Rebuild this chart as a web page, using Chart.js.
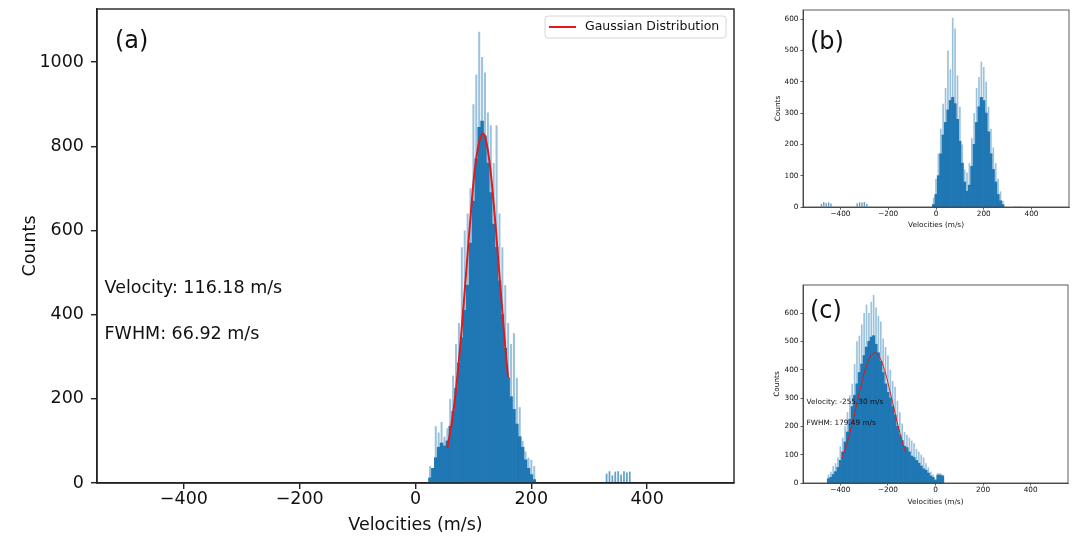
<!DOCTYPE html>
<html>
<head>
<meta charset="utf-8">
<script src="https://cdn.jsdelivr.net/npm/chart.js@4.4.1/dist/chart.umd.min.js"></script>
<style>
  body { margin: 0; background: #fff; width: 1074px; height: 538px; overflow: hidden; position: relative; }
  canvas { position: absolute; }
</style>
</head>
<body>
<canvas id="chartA" width="745" height="538" style="left:0;top:0"></canvas>
<canvas id="chartB" width="319" height="240" style="left:755px;top:0"></canvas>
<canvas id="chartC" width="319" height="258" style="left:755px;top:260px"></canvas>
<script>
const FONT = "'DejaVu Sans', sans-serif"
const BLUE = '#1f77b4'
const LIGHT = 'rgba(31,119,180,0.45)'
const MID = 'rgba(31,119,180,0.7)'
const RED = '#e0191b'

// tick labels
const velTicks = [-400, -200, 0, 200, 400]
const aYTicks = [0, 200, 400, 600, 800, 1000]
const bYTicks = [0, 100, 200, 300, 400, 500, 600]
const cYTicks = [0, 100, 200, 300, 400, 500, 600]

// (a) main histogram, 5 m/s bins
const aVel    = [25, 30, 35, 40, 45, 50, 55, 60, 65, 70, 75, 80, 85, 90, 95, 100, 105, 110, 115, 120, 125, 130, 135, 140, 145, 150, 155, 160, 165, 170, 175, 180, 185, 190, 195, 200, 205]
const aBody   = [12, 35, 60, 85, 95, 88, 100, 135, 170, 225, 285, 345, 410, 470, 570, 670, 770, 845, 860, 825, 760, 690, 615, 560, 480, 400, 320, 250, 205, 175, 140, 110, 85, 55, 35, 20, 8]
const aPeak   = [40, 30, 135, 120, 145, 110, 130, 200, 255, 330, 380, 560, 600, 640, 700, 900, 970, 1072, 1012, 975, 880, 850, 760, 850, 640, 560, 470, 380, 330, 356, 250, 180, 100, 75, 60, 55, 40]
const aSideVel    = [330, 335, 340, 345, 350, 355, 360, 365, 370]
const aSideCounts = [22, 28, 18, 27, 28, 20, 28, 25, 27]
const aGaussVel    = [55, 65, 75, 85, 95, 105, 116, 125, 135, 145, 155, 160]
const aGaussCounts = [83, 166, 292, 456, 631, 772, 830, 790, 664, 493, 323, 250]

// (b) two-peak histogram, 10 m/s bins
const bVel    = [-10, 0, 10, 20, 30, 40, 50, 60, 70, 80, 90, 100, 110, 120, 130, 140, 150, 160, 170, 180, 190, 200, 210, 220, 230, 240, 250, 260, 270, 280]
const bBody   = [8, 40, 100, 170, 230, 270, 310, 340, 350, 330, 280, 210, 140, 80, 50, 70, 130, 200, 270, 320, 350, 340, 300, 240, 170, 120, 80, 40, 20, 8]
const bPeak   = [30, 90, 170, 250, 330, 380, 500, 440, 604, 570, 420, 320, 200, 120, 110, 140, 220, 300, 380, 415, 464, 447, 400, 320, 250, 190, 140, 90, 50, 20]
const bSideVel    = [-480, -470, -460, -450, -440, -330, -320, -310, -300, -290, 330, 340, 350]
const bSideCounts = [10, 16, 12, 15, 11, 12, 15, 14, 16, 10, 3, 2, 3]

// (c) negative velocities, 10 m/s bins
const cVel    = [-450, -440, -430, -420, -410, -400, -390, -380, -370, -360, -350, -340, -330, -320, -310, -300, -290, -280, -270, -260, -250, -240, -230, -220, -210, -200, -190, -180, -170, -160, -150, -140, -130, -120, -110, -100, -90, -80, -70, -60, -50, -40, -30, -20, -10, 0, 10, 20, 30]
const cBody   = [15, 20, 30, 40, 55, 80, 110, 145, 180, 225, 270, 310, 350, 390, 420, 450, 480, 500, 515, 520, 490, 460, 430, 390, 350, 320, 300, 270, 240, 200, 170, 150, 130, 125, 110, 95, 90, 80, 70, 60, 50, 45, 35, 25, 20, 10, 28, 28, 25]
const cPeak   = [30, 40, 60, 70, 90, 130, 160, 200, 250, 310, 350, 420, 500, 520, 560, 600, 630, 600, 640, 664, 620, 590, 570, 510, 480, 450, 400, 360, 340, 290, 250, 210, 180, 170, 160, 150, 140, 120, 110, 100, 90, 70, 55, 40, 30, 15, 35, 35, 30]
const cGaussVel    = [-395, -375, -355, -335, -315, -295, -275, -255, -235, -215, -195, -175, -155, -135, -125]
const cGaussCounts = [85, 133, 194, 265, 337, 401, 444, 460, 444, 401, 337, 265, 194, 133, 107]

// frame, panel tag, notes and legend box
const decor = {
  id: 'decor',
  afterDatasetsDraw(chart, args, o) {
    const {ctx, chartArea: a, scales: {x, y}} = chart
    ctx.save()
    ctx.strokeStyle = o.frame
    ctx.lineWidth = o.frameWidth
    ctx.strokeRect(a.left, a.top, a.right - a.left, a.bottom - a.top)
    ctx.fillStyle = '#111'
    ctx.textBaseline = 'middle'
    ctx.textAlign = 'left'
    ctx.font = o.tagSize + 'px ' + FONT
    ctx.fillText(o.tag, a.left + o.tagDx, a.top + o.tagDy)
    ctx.font = o.noteSize + 'px ' + FONT
    ;(o.notes || []).forEach(n => {
      ctx.fillText(n.text, x.getPixelForValue(n.x), y.getPixelForValue(n.y))
    })
    if (o.legend) {
      const L = o.legend
      const bx = a.right - L.dx - L.w, by = a.top + L.dy
      ctx.beginPath()
      ctx.roundRect(bx, by, L.w, L.h, 3)
      ctx.fillStyle = 'rgba(255,255,255,0.85)'
      ctx.fill()
      ctx.strokeStyle = '#d6d6d6'
      ctx.lineWidth = 1
      ctx.stroke()
      ctx.beginPath()
      ctx.moveTo(bx + 4, by + L.h / 2)
      ctx.lineTo(bx + 31, by + L.h / 2)
      ctx.strokeStyle = RED
      ctx.lineWidth = 2
      ctx.stroke()
      ctx.fillStyle = '#111'
      ctx.font = L.size + 'px ' + FONT
      ctx.fillText(L.text, bx + 40, by + L.h / 2)
    }
    ctx.restore()
  }
}

const minus = v => String(v).replace('-', '\u2212')
const zeroPad = sc => { sc.paddingTop = 0; sc.paddingBottom = 0; sc.paddingLeft = 0; sc.paddingRight = 0 }

function scalesFor(s) {
  const tickFont = {family: FONT, size: s.font, lineHeight: 1}
  const titleFont = {family: FONT, size: s.font}
  const grid = {drawOnChartArea: false, offset: false, tickLength: s.tick, color: s.axis, lineWidth: s.line}
  return {
    x: {
      type: 'linear', min: s.xMin, max: s.xMax, offset: false,
      afterBuildTicks: sc => { sc.ticks = velTicks.map(v => ({value: v})) },
      afterFit: sc => { sc.height = s.xHeight; zeroPad(sc) },
      grid: grid,
      border: {color: s.axis, width: s.line},
      ticks: {padding: s.xPad, color: '#111', font: tickFont, maxRotation: 0, autoSkip: false, callback: v => minus(v)},
      title: {display: true, text: 'Velocities (m/s)', color: '#111', font: titleFont, padding: {top: 0, bottom: s.xTitle}}
    },
    y: {
      min: 0, max: s.yMax,
      afterBuildTicks: sc => { sc.ticks = s.yTicks.map(v => ({value: v})) },
      afterFit: sc => { sc.width = s.yWidth; zeroPad(sc) },
      grid: grid,
      border: {color: s.axis, width: s.line},
      ticks: {padding: s.yPad, color: '#111', font: tickFont, autoSkip: false, callback: v => String(v)},
      title: {display: true, text: 'Counts', color: '#111', font: titleFont, padding: {top: s.yTitle, bottom: 0}}
    }
  }
}

const pts = (xs, ys) => xs.map((v, i) => ({x: v, y: ys[i]}))
const barSet = (data, color, w) => ({type: 'bar', data: data, backgroundColor: color, borderWidth: 0, grouped: false, barPercentage: w || 1, categoryPercentage: 1})

function histChart(id, sets, s, deco) {
  new Chart(document.getElementById(id), {
    type: 'bar',
    data: {datasets: sets},
    options: {
      responsive: false,
      animation: false,
      devicePixelRatio: 1,
      events: [],
      layout: {padding: {top: s.padTop, right: s.padRight, left: 0, bottom: 0}},
      scales: scalesFor(s),
      plugins: {legend: {display: false}, tooltip: {enabled: false}, decor: deco}
    },
    plugins: [decor]
  })
}

// (a)
histChart('chartA', [
  {type: 'line', label: 'Gaussian Distribution', data: pts(aGaussVel, aGaussCounts), borderColor: RED, borderWidth: 2, pointRadius: 0, tension: 0.4, fill: false},
  barSet(pts(aVel, aBody), BLUE),
  barSet(pts(aSideVel, aSideCounts), MID, 0.6),
  barSet(pts(aVel, aPeak), LIGHT, 0.7)
], {
  xMin: -550, xMax: 550, yMax: 1126, yTicks: aYTicks,
  font: 17.5, tick: 6, line: 1.4, axis: '#222',
  xPad: 2, yPad: 7, xHeight: 55, yWidth: 97, xTitle: 2.5, yTitle: 19.5,
  padTop: 9, padRight: 11
}, {
  frame: '#222', frameWidth: 1.4, tag: '(a)', tagSize: 24, tagDx: 18, tagDy: 33, noteSize: 17.5,
  notes: [
    {text: 'Velocity: 116.18 m/s', x: -537, y: 463},
    {text: 'FWHM: 66.92 m/s', x: -537, y: 352}
  ],
  legend: {text: 'Gaussian Distribution', size: 12.5, dx: 8, dy: 7, w: 181, h: 22}
})

// (b)
histChart('chartB', [
  barSet(pts(bVel, bBody), BLUE),
  barSet(pts(bSideVel, bSideCounts), MID, 0.6),
  barSet(pts(bVel, bPeak), LIGHT, 0.7)
], {
  xMin: -557, xMax: 557, yMax: 629, yTicks: bYTicks,
  font: 7.3, tick: 2.5, line: 0.8, axis: '#333',
  xPad: 1, yPad: 2, xHeight: 33, yWidth: 48, xTitle: 10.6, yTitle: 18.6,
  padTop: 10, padRight: 5
}, {
  frame: '#333', frameWidth: 0.8, tag: '(b)', tagSize: 24, tagDx: 7, tagDy: 32.5, noteSize: 7.3
})

// (c)
histChart('chartC', [
  {type: 'line', label: 'Gaussian Distribution', data: pts(cGaussVel, cGaussCounts), borderColor: RED, borderWidth: 1, pointRadius: 0, tension: 0.4, fill: false},
  barSet(pts(cVel, cBody), BLUE),
  barSet(pts(cVel, cPeak), LIGHT, 0.7)
], {
  xMin: -557, xMax: 557, yMax: 699, yTicks: cYTicks,
  font: 7.3, tick: 2.5, line: 0.8, axis: '#333',
  xPad: 1, yPad: 2, xHeight: 35, yWidth: 48, xTitle: 11.9, yTitle: 17.3,
  padTop: 25, padRight: 6
}, {
  frame: '#333', frameWidth: 0.8, tag: '(c)', tagSize: 24, tagDx: 7, tagDy: 26.5, noteSize: 7.3,
  notes: [
    {text: 'Velocity: -255.30 m/s', x: -542, y: 284},
    {text: 'FWHM: 179.49 m/s', x: -542, y: 213}
  ]
})
</script>
</body>
</html>
